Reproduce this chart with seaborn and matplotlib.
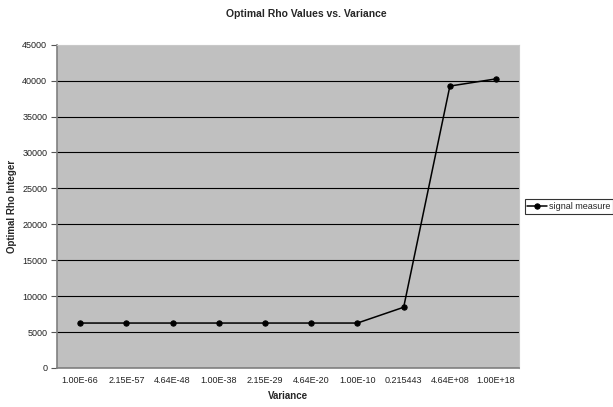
import matplotlib
matplotlib.use("Agg")
import matplotlib.pyplot as plt
import numpy as np
import pandas as pd
import seaborn as sns

variance_labels = ["1.00E-66", "2.15E-57", "4.64E-48", "1.00E-38", "2.15E-29",
                   "4.64E-20", "1.00E-10", "0.215443", "4.64E+08", "1.00E+18"]
rho_values = [6250, 6250, 6250, 6250, 6250, 6250, 6250, 8450, 39250, 40250]
series_name = "signal measure"
y_ticks = list(range(0, 45001, 5000))

sns.set_theme(style="white")
plt.rcParams["font.family"] = ["Liberation Sans", "DejaVu Sans"]

df = pd.DataFrame({"pos": np.arange(len(variance_labels)),
                   "rho": rho_values,
                   "series": series_name})

fig = plt.figure(figsize=(6.13, 4.07), dpi=100)
ax = fig.add_axes([0.093, 0.096, 0.754, 0.794])
ax.set_facecolor("#C0C0C0")

sns.lineplot(data=df, x="pos", y="rho", hue="series", palette=["black"],
             marker="o", markersize=3.8, markeredgecolor="black",
             linewidth=1.1, ax=ax, legend=True)

ax.set_xlim(-0.5, len(variance_labels) - 0.5)
ax.set_ylim(0, 45000)
ax.set_yticks(y_ticks)
ax.set_yticklabels([str(v) for v in y_ticks], fontsize=6.5, color="#222222")
ax.yaxis.grid(True, color="black", linewidth=0.8)
ax.set_axisbelow(True)
# no gridline along the top edge of the plot area
ax.get_ygridlines()[-1].set_visible(False)

ax.set_xticks(np.arange(len(variance_labels)))
ax.set_xticklabels(variance_labels, fontsize=6.5, color="#222222")
ax.set_xticks(np.arange(-0.5, len(variance_labels), 1.0), minor=True)
ax.tick_params(axis="x", which="major", length=0, pad=6)
ax.tick_params(axis="x", which="minor", length=4, width=0.8, color="#555555", direction="out")
ax.tick_params(axis="y", which="major", length=4, width=0.8, color="#555555", direction="out", pad=3, left=True)

for side in ["left", "bottom"]:
    ax.spines[side].set_color("#808080")
    ax.spines[side].set_linewidth(1.2)
for side in ["top", "right"]:
    ax.spines[side].set_color("#C8C8C8")
    ax.spines[side].set_linewidth(0.8)

ax.set_xlabel("Variance", fontsize=7, fontweight="bold", labelpad=4)
ax.set_ylabel("Optimal Rho Integer", fontsize=7, fontweight="bold", labelpad=4)
fig.suptitle("Optimal Rho Values vs. Variance", fontsize=7.5, fontweight="bold", y=0.978)

leg = ax.legend(loc="center left", bbox_to_anchor=(1.012, 0.5), frameon=True,
                fontsize=6.5, handlelength=2.2, handletextpad=0.2,
                borderpad=0.3, fancybox=False, borderaxespad=0)
leg.get_frame().set_edgecolor("black")
leg.get_frame().set_linewidth(0.8)

fig.savefig("out.png", dpi=100, facecolor="white")
